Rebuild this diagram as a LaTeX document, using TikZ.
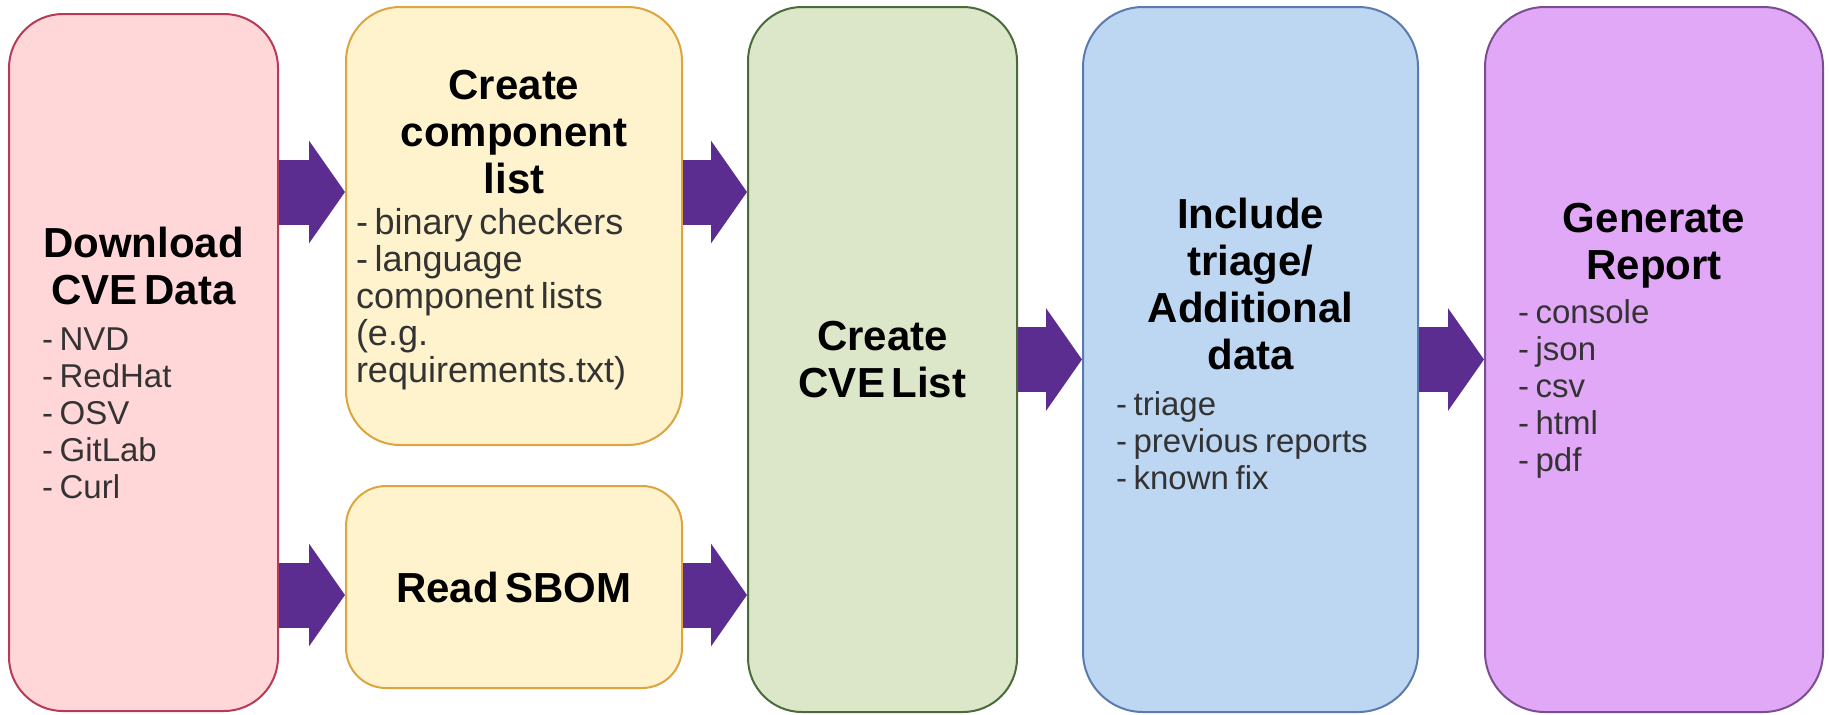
\documentclass[tikz,border=0pt]{standalone}
\usepackage{fontspec}
\setmainfont{Liberation Sans}
\usetikzlibrary{arrows.meta}
\setlength{\parindent}{0pt}

\definecolor{dlfill}{HTML}{FFD7D9}
\definecolor{dlline}{HTML}{B83A55}
\definecolor{compfill}{HTML}{FFF3CE}
\definecolor{compline}{HTML}{DCA53E}
\definecolor{cvefill}{HTML}{DCE6C8}
\definecolor{cveline}{HTML}{4A6B3A}
\definecolor{inclfill}{HTML}{BDD7F3}
\definecolor{inclline}{HTML}{5A7BAE}
\definecolor{repfill}{HTML}{E2A8F8}
\definecolor{repline}{HTML}{7B4D91}
\definecolor{flowpurple}{HTML}{5B2D90}
\definecolor{itemgray}{HTML}{333333}

\newcommand{\titletext}{\fontsize{21}{23.5}\selectfont\bfseries}
\newcommand{\itemtext}{\fontsize{16.5}{18.5}\selectfont\color{itemgray}}

\begin{document}
\begin{tikzpicture}[x=0.5pt,y=-0.5pt]
		\tikzset{stage/.style={draw, line width=1pt, rounded corners=27pt, inner sep=0pt}}
		\tikzset{stagetext/.style={inner sep=0pt, text=black}}
		\tikzset{flow/.style={draw=flowpurple, line width=32.5pt,
				-{Triangle[length=18pt, width=50.5pt]}}}
		\useasboundingbox (0,0) rectangle (1829,714);
		%boxes
		\node[stage, fill=dlfill, draw=dlline, minimum width=134.5pt, minimum height=348.5pt] (dl) at (143.5,362.5) {};
		\node[stage, fill=compfill, draw=compline, minimum width=168pt, minimum height=219pt] (comp) at (514,226) {};
		\node[stage, fill=compfill, draw=compline, minimum width=168pt, minimum height=101pt, rounded corners=20pt] (sbom) at (514,587) {};
		\node[stage, fill=cvefill, draw=cveline, minimum width=134.5pt, minimum height=352.5pt] (cve) at (882.5,359.5) {};
		\node[stage, fill=inclfill, draw=inclline, minimum width=167.5pt, minimum height=352.5pt, rounded corners=30pt] (incl) at (1250.5,359.5) {};
		\node[stage, fill=repfill, draw=repline, minimum width=169pt, minimum height=352.5pt, rounded corners=30pt] (rep) at (1654,359.5) {};
		%texts
		\node[stagetext, text width=101.5pt] (dltext) at (dl.center)
			{{\titletext\centering Download\\CVE Data\par}\vspace{4.5pt}
			 {\itemtext\raggedright - NVD\\- RedHat\\- OSV\\- GitLab\\- Curl\par}};
		\node[stagetext, text width=158pt] (comptext) at ([yshift=-2pt]comp.center)
			{{\titletext\centering Create\\component\\list\par}\vspace{2pt}
			 {\fontsize{18}{18.5}\selectfont\color{itemgray}\raggedright - binary checkers\\- language\\component lists\\(e.g.\\requirements.txt)\par}};
		\node[stagetext, text width=135pt] (sbomtext) at (sbom.center)
			{{\titletext\centering Read SBOM\par}};
		\node[stagetext, text width=101.5pt] (cvetext) at (cve.center)
			{{\titletext\centering Create\\CVE List\par}};
		\node[stagetext, text width=134.5pt] (incltext) at ([yshift=8pt]incl.center)
			{{\titletext\centering Include\\triage/\\Additional\\data\par}\vspace{4.5pt}
			 {\itemtext\raggedright - triage\\- previous reports\\- known fix\par}};
		\node[stagetext, text width=136pt] (reptext) at ([yshift=9.5pt]rep.center)
			{{\titletext\centering Generate\\Report\par}\vspace{3.5pt}
			 {\itemtext\raggedright - console\\- json\\- csv\\- html\\- pdf\par}};
		%arrows
		\coordinate (toprow) at (0,192);
		\coordinate (botrow) at (0,595);
		\path (dl.east |- toprow) edge[flow] (comp.west |- toprow);
		\path (dl.east |- botrow) edge[flow] (sbom.west |- botrow);
		\path (comp.east |- toprow) edge[flow] (cve.west |- toprow);
		\path (sbom.east |- botrow) edge[flow] (cve.west |- botrow);
		\path (cve.east) edge[flow] (incl.west);
		\path (incl.east) edge[flow] (rep.west);
\end{tikzpicture}
\end{document}
